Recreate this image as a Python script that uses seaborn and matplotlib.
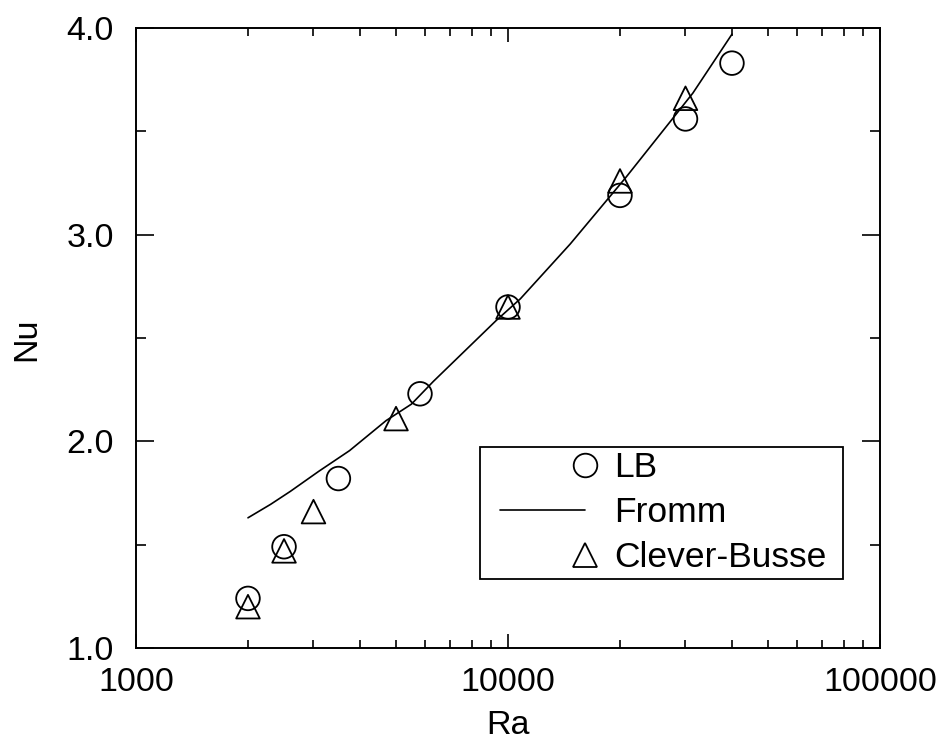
import numpy as np
import pandas as pd
import matplotlib
matplotlib.use("Agg")
import matplotlib.pyplot as plt
import seaborn as sns
from matplotlib.lines import Line2D
from matplotlib.legend_handler import HandlerLine2D
from matplotlib.ticker import LogLocator, FixedLocator, NullFormatter, FixedFormatter

# ---- data ----
lb_ra = [2000, 2500, 3500, 5800, 10000, 20000, 30000, 40000]
lb_nu = [1.24, 1.49, 1.82, 2.23, 2.65, 3.19, 3.56, 3.83]

cb_ra = [2000, 2500, 3000, 5000, 10000, 20000, 30000]
cb_nu = [1.20, 1.47, 1.66, 2.11, 2.65, 3.26, 3.66]

fromm_ra = [2000, 2300, 2600, 3100, 3750, 4700, 5500, 6300, 9300, 10800, 14700,
            18400, 20700, 27800, 31400, 40000]
fromm_nu = [1.63, 1.695, 1.758, 1.855, 1.955, 2.10, 2.18, 2.29, 2.585, 2.69, 2.955,
            3.165, 3.275, 3.565, 3.685, 3.97]

x_ticks = [1000, 10000, 100000]
x_ticklabels = ["1000", "10000", "100000"]
y_ticks = [1.0, 2.0, 3.0, 4.0]
y_ticklabels = ["1.0", "2.0", "3.0", "4.0"]

sns.set_theme(style="ticks")
plt.rcParams['font.family'] = ['Liberation Sans', 'DejaVu Sans']
plt.rcParams['text.color'] = 'black'
plt.rcParams['axes.labelcolor'] = 'black'
plt.rcParams['xtick.color'] = 'black'
plt.rcParams['ytick.color'] = 'black'

fig = plt.figure(figsize=(9.41, 7.40), dpi=100)
ax = fig.add_axes([136/941, 1-648/740, 744/941, 620/740])

df_f = pd.DataFrame({"Ra": fromm_ra, "Nu": fromm_nu})
df_lb = pd.DataFrame({"Ra": lb_ra, "Nu": lb_nu})
df_cb = pd.DataFrame({"Ra": cb_ra, "Nu": cb_nu})

sns.lineplot(data=df_f, x="Ra", y="Nu", ax=ax, color="black", linewidth=1.2,
             sort=True, estimator=None)
sns.scatterplot(data=df_lb, x="Ra", y="Nu", ax=ax, marker="o", s=17**2,
                facecolor="none", edgecolor="black", linewidth=1.3)
sns.scatterplot(data=df_cb, x="Ra", y="Nu", ax=ax, marker="^", s=17**2,
                facecolor="none", edgecolor="black", linewidth=1.3)

ax.set_xscale("log")
ax.set_xlim(1000, 100000)
ax.set_ylim(1.0, 4.0)

ax.xaxis.set_major_locator(FixedLocator(x_ticks))
ax.xaxis.set_major_formatter(FixedFormatter(x_ticklabels))
ax.xaxis.set_minor_locator(LogLocator(base=10, subs=np.arange(2, 10)))
ax.xaxis.set_minor_formatter(NullFormatter())
ax.yaxis.set_major_locator(FixedLocator(y_ticks))
ax.yaxis.set_major_formatter(FixedFormatter(y_ticklabels))
ax.yaxis.set_minor_locator(FixedLocator([1.5, 2.5, 3.5]))

for sp in ax.spines.values():
    sp.set_linewidth(1.4)
    sp.set_color("black")

ax.tick_params(axis="both", which="both", direction="in", top=True, right=True,
               color="black", labelcolor="black", width=1.2)
ax.tick_params(axis="x", which="major", length=10, pad=13.5, labelsize=24.5)
ax.tick_params(axis="x", which="minor", length=6)
ax.tick_params(axis="y", which="major", length=13, pad=16, labelsize=24.5)
ax.tick_params(axis="y", which="minor", length=7)

ax.set_xlabel("Ra", fontsize=24.5, color="black")
ax.set_ylabel("Nu", fontsize=24.5, color="black")
ax.xaxis.set_label_coords(0.5, -0.1)
ax.yaxis.set_label_coords(-0.126, 0.498)


class EndMarkerHandler(HandlerLine2D):
    """Line spans the handle box (after a small left offset); marker sits at its right end."""
    def __init__(self, left_offset=0.0, **kw):
        super().__init__(**kw)
        self.left_offset = left_offset

    def create_artists(self, legend, orig_handle, xdescent, ydescent, width,
                       height, fontsize, trans):
        y = height / 2 - ydescent
        x0 = -xdescent + self.left_offset * fontsize
        x1 = -xdescent + width
        legline = Line2D([x0, x1], [y, y])
        self.update_prop(legline, orig_handle, legend)
        legline.set_markevery([1])
        legline.set_transform(trans)
        return [legline]


h_lb = Line2D([], [], linestyle="none", marker="o", markersize=17,
              markerfacecolor="none", markeredgecolor="black", markeredgewidth=1.3)
h_f = Line2D([], [], color="black", linewidth=1.2)
h_cb = Line2D([], [], linestyle="none", marker="^", markersize=17,
              markerfacecolor="none", markeredgecolor="black", markeredgewidth=1.3)

fs = 25.5
em = fs * 100 / 72
off = 16 / em  # in font-size units
hmap = {h_lb: EndMarkerHandler(left_offset=off), h_f: EndMarkerHandler(left_offset=off),
        h_cb: EndMarkerHandler(left_offset=off)}

leg = ax.legend([h_lb, h_f, h_cb], ["LB", "Fromm", "Clever-Busse"],
                loc="upper left",
                bbox_to_anchor=((480-136)/744, (648-578)/620, (843-480)/744, (578-447)/620),
                mode="expand",
                fontsize=fs, numpoints=1, handlelength=2.85, handletextpad=0.83,
                labelspacing=0.34, borderpad=0.12, borderaxespad=0.0,
                fancybox=False, frameon=True, handler_map=hmap)
fr = leg.get_frame()
fr.set_edgecolor("black")
fr.set_linewidth(1.3)
fr.set_alpha(1)

fig.savefig("out.png", dpi=100)
